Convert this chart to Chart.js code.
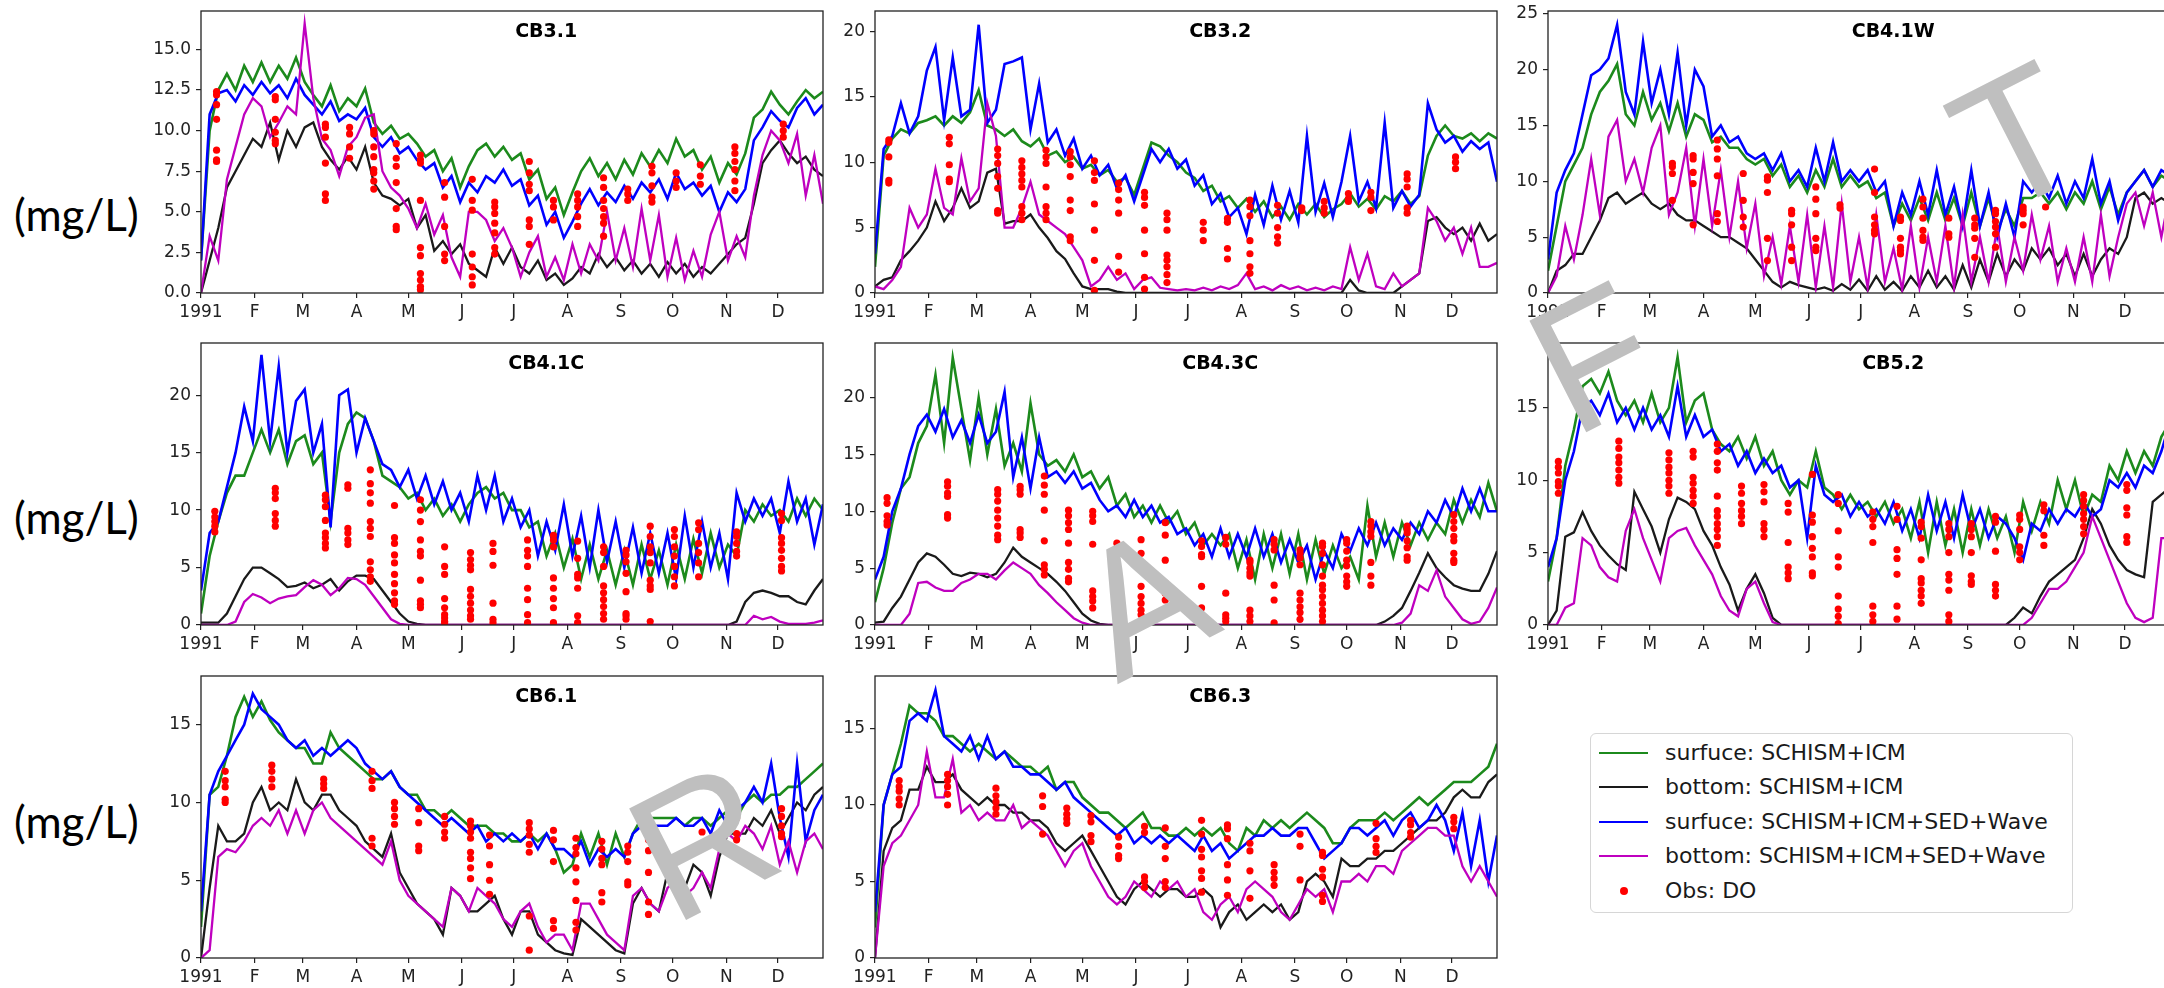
<!DOCTYPE html>
<html>
<head>
<meta charset="utf-8">
<script src="https://cdn.jsdelivr.net/npm/chart.js@4.4.1/dist/chart.umd.min.js"></script>
<style>
  html, body { margin: 0; padding: 0; background: #fff; }
  body { width: 2164px; height: 988px; overflow: hidden; position: relative; }
  canvas.panel { position: absolute; }
  .unit { position: absolute; left: 14px; font-family: Lato, "Noto Sans", sans-serif; font-size: 44px; line-height: 1; color: #000; transform: translateY(-50%); white-space: nowrap; }
  #legend { position: absolute; left: 1590px; top: 733px; width: 481px; height: 178px; border: 1.5px solid #d6d6d6; border-radius: 6px; background: #fff; font-family: "DejaVu Sans", sans-serif; font-size: 22px; color: #1a1a1a; }
  #legend .row { position: absolute; left: 0; height: 30px; line-height: 30px; transform: translateY(-50%); white-space: nowrap; }
  #legend .sw { position: absolute; left: 8px; top: 14px; width: 49px; height: 2px; }
  #legend .dot { position: absolute; left: 29px; top: 11px; width: 8px; height: 8px; border-radius: 50%; background: #ff0000; }
  #legend .txt { position: absolute; left: 74px; top: 0; }
  #wm { position: absolute; left: 0; top: 0; pointer-events: none; z-index: 5; }
</style>
</head>
<body>
<div class="unit" style="top:214px">(mg/L)</div>
<div class="unit" style="top:517px">(mg/L)</div>
<div class="unit" style="top:821px">(mg/L)</div>

<div id="legend">
  <div class="row" style="top:19px"><span class="sw" style="background:#1c8a1c"></span><span class="txt">surfuce: SCHISM+ICM</span></div>
  <div class="row" style="top:53px"><span class="sw" style="background:#1a1a1a"></span><span class="txt">bottom: SCHISM+ICM</span></div>
  <div class="row" style="top:88px"><span class="sw" style="background:#0000ff"></span><span class="txt">surfuce: SCHISM+ICM+SED+Wave</span></div>
  <div class="row" style="top:122px"><span class="sw" style="background:#bf00bf"></span><span class="txt">bottom: SCHISM+ICM+SED+Wave</span></div>
  <div class="row" style="top:157px"><span class="dot"></span><span class="txt">Obs: DO</span></div>
</div>

<canvas id="wm" width="2164" height="988"></canvas>

<script>
// ---- axis definitions ----
const months = [0, 31, 59, 90, 120, 151, 181, 212, 243, 273, 304, 334];
const monthLabels = ['1991', 'F', 'M', 'A', 'M', 'J', 'J', 'A', 'S', 'O', 'N', 'D'];
const STEP = 5; // model series sampled every 5 days from Jan 1

// ---- CB3.1 ----
const cb31Green = [2,10,12.5,13.5,12.5, 14,13,14.2,13,14, 13.2,14.5,13,12.2,11.5, 12.8,11.2,12,11.5,12.6, 10.5,9.8,10.3,9.5,9.8, 9.2,8.4,8.8,7.5,8.3, 6.5,7.8,8.8,9.2,8.4, 9.0,8.2,8.6,7.0,7.6, 5.8,6.5,4.8,6.2,7.5, 8.3,7.2,8.0,7.0,8.2, 7.3,8.6,7.8,8.8,8.0, 9.5,8.4,8.8,7.6,8.4, 6.8,8.0,7.3,8.6,10.8, 11.3,12.4,11.6,11.0,11.8, 12.5,12.0,12.4];
const cb31Black = [0,2,4,6.5,7.5, 8.5,9.5,9.0,10.5,8.2, 10.0,9.0,10.2,10.5,9.0, 8.2,7.6,8.4,7.6,9.0, 6.8,6.0,5.8,5.4,5.8, 4.0,4.8,2.6,3.2,2.4, 3.0,1.8,1.4,1.0,2.8, 1.8,2.8,1.6,1.2,2.0, 0.8,1.2,0.5,0.9,1.6, 1.2,2.4,1.6,2.2,1.4, 2.0,1.2,1.8,1.0,1.9, 1.2,1.8,1.0,1.6,1.2, 1.8,2.4,3.0,3.4,5.5, 8.0,8.8,9.4,8.6,8.0, 8.4,7.6,7.2];
const cb31Blue = [2,11,12.3,12.5,11.8, 12.8,12.2,13.0,12.3,12.8, 12.0,13.2,12.2,11.6,11.0, 11.8,10.6,11.0,10.7,11.4, 9.6,9.0,9.6,8.6,9.0, 8.2,7.6,8.0,6.5,7.2, 5.6,6.8,6.2,7.2,6.8, 7.6,6.6,7.0,5.4,6.0, 4.2,5.0,3.4,4.4,5.5, 6.4,5.4,6.2,5.6,6.6, 5.8,6.8,6.2,7.0,5.8, 7.4,6.4,6.8,6.0,6.6, 5.0,6.2,5.6,6.4,9.4, 10.2,11.2,10.6,10.2,11.4, 12.0,11.0,11.6];
const cb31Magenta = [0,3.5,2.0,7.0,9.0, 11.0,12.0,11.5,9.6,10.5, 11.5,11.0,16.6,12.0,9.5, 8.8,7.2,9.0,9.6,10.8, 11.0,7.5,6.5,6.0,5.2, 4.0,5.5,3.6,4.8,2.2, 1.0,5.0,5.0,4.5,3.2, 4.0,2.8,1.0,2.5,3.5, 1.0,2.2,0.8,3.0,1.2, 3.0,2.0,5.0,2.0,4.0, 1.6,5.2,2.0,4.8,1.0, 3.4,0.8,2.6,1.0,3.6, 5.0,2.0,3.5,2.2,6.0, 8.5,10.0,9.4,8.0,9.8, 6.0,8.5,5.5];
const cb31Obs = [
  [9,[12.4,12.2,11.6,10.7,8.8,8.2,8.1]], [43,[12.1,11.9,10.7,9.9,9.4,9.2]], [72,[10.4,10.2,9.6,8.0,6.1,5.7]],
  [86,[10.2,9.8,9.0,8.3]], [100,[10.0,9.8,9.0,8.4,7.6,7.4,6.9,6.4]], [113,[9.2,8.3,7.8,6.8,5.2,4.1,3.9]],
  [127,[8.5,8.2,8.0,5.7,2.8,2.3,1.2,0.8,0.4,0.2]], [141,[6.8,5.9,4.1,2.4,2.0]], [157,[7.0,5.7,5.1,2.4,1.6,1.0,0.5]],
  [170,[5.6,5.3,4.9,4.3,3.7,2.8,2.4]], [190,[8.1,7.4,6.7,6.3,4.5,4.1,3.0]], [204,[5.7,5.3,4.5]],
  [218,[6.1,5.7,5.3,4.7,4.1]], [233,[7.1,6.5,5.7,5.2,4.7,4.3,3.5]], [247,[6.4,6.1,5.7]],
  [261,[7.8,7.4,6.6,5.9,5.6]], [275,[7.4,6.9,6.5]], [289,[7.9,7.2,6.7]],
  [309,[9.0,8.6,8.1,7.6,6.9,6.3]], [337,[10.4,10.0,9.6]]
];

// ---- CB3.2 ----
const cb32Green = [2,10.5,11.8,12.5,12.2, 13.0,13.2,13.5,12.8,13.5, 13.0,13.8,15.5,12.8,12.5, 12.0,12.5,11.6,11.2,11.8, 10.5,10.8,10.0,10.4,9.5, 9.8,9.0,9.4,8.5,8.8, 7.5,9.5,11.5,11.2,10.5, 10.0,9.2,8.8,7.8,8.2, 7.0,7.4,6.5,7.2,6.2, 7.0,5.8,6.6,5.6,6.8, 6.0,6.8,5.8,6.4,6.8, 7.6,6.6,7.2,6.4,7.4, 7.0,7.8,6.8,7.4,10.5, 12.0,12.8,12.0,11.8,12.2, 11.6,12.2,11.8];
const cb32Black = [0.5,1.0,1.2,2.5,3.2, 4.0,5.0,7.0,5.5,6.5, 8.0,6.5,7.0,9.2,9.5, 5.3,5.5,5.5,6.0,5.0, 4.2,3.2,2.6,1.5,0.5, 0.3,0.3,0.3,0.1,0, 0,0,0,0,0, 0,0,0,0,0, 0,0,0,0,0, 0,0,0,0,0, 0,0,0,0,0, 1.0,0.2,0,0,0, 0,0.5,1.0,1.5,5.5, 5.8,5.0,4.5,5.0,4.0, 5.3,4.0,4.5];
const cb32Blue = [3,11.0,12.0,14.5,12.2, 13.5,17.0,18.8,13.2,18.0, 13.5,14.0,20.5,13.0,14.0, 17.5,17.7,18.0,12.5,16.0, 11.5,12.5,10.5,11.8,9.5, 10.5,9.0,9.8,8.0,9.0, 7.0,9.0,11.0,10.0,11.0, 9.5,10.2,8.2,9.0,6.8, 7.6,5.8,6.5,4.5,7.5, 5.2,8.2,5.6,7.8,5.4, 12.0,6.2,8.4,5.8,8.5, 12.0,7.0,8.5,6.5,13.0, 6.5,7.8,6.6,7.5,14.5, 12.5,11.5,12.0,10.8,11.6, 11.0,11.5,8.5];
const cb32Magenta = [0.5,0.3,1.0,2.0,6.5, 5.0,6.0,9.5,6.5,6.0, 10.3,7.0,8.0,14.5,12.0, 5.0,5.0,6.5,8.5,6.0, 5.5,5.0,4.5,3.5,2.5, 0.5,1.0,2.0,1.0,1.5, 0.3,1.0,1.2,0.4,0.3, 0.2,0.3,0.2,0.4,0.2, 0.5,0.3,0.6,1.5,0.3, 0.5,0.2,0.6,0.3,0.5, 0.2,0.4,0.2,0.5,0.3, 3.5,1.0,3.0,0.5,0.3, 1.5,0.5,1.0,1.5,6.5, 5.5,4.0,5.0,3.0,5.0, 2.0,2.0,2.3];
const cb32Obs = [
  [8,[11.7,11.5,10.4,8.6,8.4]], [43,[11.9,11.4,9.8,8.7,8.5]], [71,[11.0,10.5,9.9,8.9,8.0,6.3,6.1]],
  [85,[10.1,9.6,9.1,8.6,8.1,6.6,6.1,5.6]], [99,[10.9,10.4,9.9,8.1,6.6,6.1,5.6]], [113,[10.8,10.4,9.8,8.9,7.1,6.3,4.3,4.0]],
  [127,[10.1,9.2,8.6,6.8,4.8,2.5,0.2]], [141,[8.4,7.9,7.1,6.1,2.8,1.6]], [156,[7.7,7.3,6.7,4.8,3.0,1.2,0.3]],
  [169,[6.1,5.6,4.8,2.9,2.5,2.0,1.4,0.8]], [190,[5.4,4.8,4.0]], [204,[5.7,5.4,3.4,2.6]],
  [217,[7.1,6.6,5.9,4.0,3.0,2.0,1.5]], [233,[6.7,6.1,5.0,4.3,3.8]], [247,[6.5,6.3]],
  [260,[7.0,6.5,6.1]], [274,[7.6,7.2,7.0]], [287,[7.7,7.3,6.3]],
  [308,[9.1,8.7,8.1,6.5,6.1]], [336,[10.4,10.0,9.5]]
];

// ---- CB4.1W ----
const cb41wGreen = [2,6,10,11.5,13, 16,18,19,20.5,16, 15,18,15.5,17,14.5, 17,14,16,15.5,13.5, 14,13,13,12,11.5, 12,10.5,11.5,9.5,10.5, 9,11,9.5,12,9.5, 10.5,9.5,10,8.5,9, 6,8,6.5,8.5,6.5, 9,6.5,8.5,6,9, 6,8.5,5.5,7.5,6, 8.5,8.5,9,8,9, 7.5,9,8,10,7.5, 9.5,7,9,10,11, 9.5,10.5,10];
const cb41wBlack = [0,2,2.5,3.5,3.5, 5,6.5,8.5,9,8, 8.5,9,8,7.5,8, 7,6.5,6.5,6,5.5, 5,5,4.5,4,3, 2,1,0.5,1,0.7, 0.5,0.3,0.5,0.2,0.8, 0.3,1.2,0.2,1.5,0.3, 1,0.2,1.5,0.5,2, 0.5,1.5,0.3,2.5,0.5, 3,1,3.5,1.5,3, 2,4,3,4,2.5, 3.5,1.5,3.5,1.5,3, 4,3.5,5,8.5,9, 8,8.5,8];
const cb41wBlue = [3,9,11,12.5,16, 19.5,20,21,24,18, 16,22.5,17,20,16, 21.5,15,20,18.5,14, 15,13.5,14,12.5,12, 12.5,11,12.5,10,11, 9.5,13,10,13.5,10, 11,10,11,9,10, 6,9,7,10,7, 11,7,9.5,6,11, 6,9,5,8,5, 10,9,10,8.5,10.5, 8,10,8.5,12,8, 10,6.5,9,10,11, 9.5,11,10.5];
const cb41wMagenta = [0,1.5,6,3,7, 12,7,14,15.5,10, 12,9,13,15,7, 9,13,6,12,6, 11,5,10,4,8, 1.5,5,0.8,6,1, 7,0.5,6,0.5,8, 1,5,0.5,7,1, 4,0.3,6,0.5,5, 1,6,0.5,7,1, 5,1,6,1,5, 2,7,3,6,1, 4,1,5,1,7, 1.5,5,8,9,6, 9,5,9];
const cb41wObs = [
  [72,[11.6,11.3,10.7,8.3]], [84,[12.3,12.0,10.8,9.8,6.1]], [98,[13.7,12.9,12.0,10.5,7.1,6.4]],
  [113,[10.7,8.3,6.8,5.9]], [127,[10.4,10.1,9.0,4.9,2.9]], [141,[7.4,7.1,6.1,4.1,2.9]],
  [155,[9.5,8.4,7.1,4.9,4.1,3.8]], [169,[7.9,7.6]], [189,[11.1,9.0,6.8,6.1,5.6,5.3]],
  [204,[6.8,6.5,4.9,4.1,3.8,3.5]], [217,[8.4,7.7,6.7,5.6,5.0,4.7]], [232,[6.7,5.3,5.0]],
  [247,[6.7,6.1,5.8,4.9,3.2]], [259,[7.4,7.1,6.4,5.9,5.3,4.1]], [275,[7.7,7.4,7.1,6.1]], [288,[7.7]]
];

// ---- CB4.1C ----
const cb41cGreen = [1,6,9,11.5,13, 13,15,17,15,17, 14,16,16.5,14,15, 9,15,17.5,18.5,18, 16,13,12.5,12,11, 11.5,10,11,9.5,10.5, 9,10.5,11.5,12,11, 11.5,10,10,8.5,9, 6,8,5,7.5,4, 7,4,6.5,3.5,6.5, 3.5,7,4,6.5,3.5, 7,4,7.5,4.5,8, 5,7,6,10,9, 10.5,9.5,10,9,11, 9.5,11,10];
const cb41cBlack = [0.2,0.2,0.2,1,2.5, 4,5,5,4.5,4, 3.3,3.4,3.7,3.2,3.5, 4,3,3.8,4.3,4.3, 4,3,2,1,0.3, 0.1,0,0,0,0, 0,0,0,0,0, 0,0,0,0,0, 0,0,0,0,0, 0,0,0,0,0, 0,0,0,0,0, 0,0,0,0,0, 0,0,0.3,2,2.8, 3,2.8,2.5,2.5,2, 1.8,3,4];
const cb41cBlue = [3,8,9,12,15, 19,16,23.5,16,22.5, 15,19.5,20.5,15,17.5, 8.5,20,20.5,15,18, 16,14,13.5,12,13.5, 11,13,10.5,12.5,10, 11.5,9,13,10,13, 9,11,8.5,10,6, 9,6.5,10.5,6,9.5, 5,10,5.5,9,5, 8.5,4.5,8,4.5,8, 4,9.5,5,9,5, 8,4,11.5,9,11, 9.5,11,8,12.5,9, 11,7,10.5];
const cb41cMagenta = [0,0,0,0,0.3, 2,2.7,2.4,1.9,2.3, 2.5,2.6,3.3,3.9,3.5, 2.6,3.2,4.1,4,3.5, 2.5,1.5,0.5,0.1,0, 0,0,0,0,0, 0,0,0,0,0, 0,0,0,0,0, 0,0,0,0,0, 0,0,0,0,0, 0,0,0,0,0, 0,0,0,0,0, 0,0,0,0,0.8, 0.5,0.7,0.3,0.1,0.1, 0.1,0.2,0.4];
const cb41cObs = [
  [8,[9.9,9.4,9.0,8.6,8.1]], [43,[11.9,11.5,11.0,9.7,9.1,8.6]], [72,[11.3,10.9,10.3,9.1,8.0,7.6,7.1,6.7]],
  [85,[12.2,11.9,8.4,8.0,7.4,7.0]], [98,[13.5,12.3,11.5,10.6,9.0,8.4,7.7,5.5,4.8,4.2,3.8]],
  [112,[10.4,7.6,7.1,6.1,5.4,4.4,3.6,2.8,2.1,1.8]], [127,[10.9,10.0,9.0,7.4,6.4,6.0,3.9,2.1,1.8,1.5]],
  [141,[6.8,5.1,4.4,2.3,1.5,0.9,0.6,0.3,0.2]], [156,[6.3,5.7,5.2,4.8,3.1,2.5,1.9,1.3,0.8,0.5]],
  [169,[7.1,6.4,5.2,1.9,0.5,0.2]], [189,[7.4,6.5,6.0,5.1,3.2,2.2,0.9,0.2]], [204,[7.8,7.4,6.8,4.1,3.2,2.3,1.5,0.2]],
  [218,[7.3,5.8,4.4,4.1,3.2,0.8,0.2]], [233,[6.8,6.3,5.1,3.4,2.8,2.2,1.6,1.0,0.5]], [246,[6.5,6.1,5.5,4.5,2.9,1.0,0.8,0.5]],
  [260,[8.6,7.7,6.8,6.3,5.4,3.9,3.4,3.1,0.3]], [274,[8.3,7.7,6.8,6.0,5.1,4.2,3.4]], [288,[8.9,8.3,7.1,6.3,5.4,4.2]],
  [310,[8.1,7.7,7.1,6.4,6.0]], [336,[9.7,9.1,7.6,7.1,6.5,5.8,5.1,4.7]]
];

// ---- CB4.3C ----
const cb43cGreen = [2,5,9,12,13, 16,17.5,22,16,23.5, 19,14.5,20,15,19, 14,16,13.5,19.5,15, 14,14.5,13.5,15,13, 13.5,12,13,10.5,11.5, 9.5,10.5,9,10.5,9, 10,8,9,7,8, 7,8,5,7.5,4, 8,5,8,4.5,8, 4,7.5,4.5,7,5, 6,4,10.5,6,9, 6,9,7,9,7.5, 9,8,11,9,11, 9.5,12.5,10];
const cb43cBlack = [0.2,0.3,1.5,2.5,4, 5.5,6.3,6,5.3,4.5, 4.3,4.6,4.5,4.2,4.5, 5.5,6.8,6,5.5,5, 4.5,3.8,3,2,1, 0.4,0.1,0,0,0, 0,0,0,0,0, 0,0,0,0,0, 0,0,0,0,0, 0,0,0,0,0, 0,0,0,0,0, 0,0,0,0,0.3, 0.8,1.5,3,4.6,6.3, 5,4.2,3.5,3.2,3, 3,4.5,6.5];
const cb43cBlue = [4,6,10,12,15, 17.5,18.5,17,19,16.5, 18,16,18.5,16,17, 20.5,13,16.5,12,16.5, 13,13.5,12.5,13.5,12, 12.5,11,10,10.5,9.5, 11,9.5,10.5,9,9.5, 8,8.5,7,8,6, 8.5,6,8,6,8.5, 6,8,5.5,7.5,5.5, 7,4,6.5,5,8, 6.5,8.5,7,9,7, 8.5,7.5,9,8,10, 9,11,9.5,12,10, 12,10,10];
const cb43cMagenta = [0,0,0,0,1, 3.7,3.8,3.3,3,3, 3.7,4,4.5,4.5,4, 4.8,5.5,5,4.5,3.5, 2.8,2,1.3,0.6,0.2, 0,0,0,0,0, 0,0,0,0,0, 0,0,0,0,0, 0,0,0,0,0, 0,0,0,0,0, 0,0,0,0,0, 0,0,0,0,0, 0,0.2,1,3.5,3, 4.8,2.5,1.5,0.5,0.1, 0.3,1.5,3.3];
const cb43cObs = [
  [7,[11.2,10.7,9.6,9.1,8.8]], [42,[12.6,12.2,11.6,11.3,9.7,9.4]], [71,[11.9,11.5,10.9,10.1,9.4,8.7,7.9,7.5]],
  [84,[12.2,11.9,11.5,8.4,8.1,7.7]], [98,[13.1,12.3,11.5,10.1,7.4,5.3,4.9,4.4]], [112,[10.1,9.6,9.0,8.4,7.2,5.5,4.9,4.1,3.8]],
  [126,[10.0,9.6,9.1,7.1,3.0,2.5,2.1,1.5]], [140,[7.2,6.5,2.8,1.9,1.1]], [154,[7.5,6.3,3.4,2.5,1.9,1.3,0.9]],
  [168,[9.0,7.9,5.7,3.7,2.8,2.2]], [189,[7.4,6.9,6.2,6.0,3.4,1.5,0.5]], [203,[7.7,7.1,2.8,0.9,0.6,0.3]],
  [217,[5.7,5.5,5.0,4.6,4.3,1.3,0.8,0.3]], [231,[7.5,7.1,6.6,3.5,2.2,0.2]], [246,[6.6,6.3,5.9,5.3,2.8,2.2,1.6,1.1,0.5]],
  [259,[7.2,6.9,6.3,5.3,4.3,3.5,3.1,2.5,1.9,1.3,0.8,0.3]], [273,[7.5,7.2,6.5,5.7,5.2,4.3,3.8,3.4]],
  [287,[9.1,8.7,8.2,7.8,5.5,4.3,3.5]], [308,[8.7,8.4,8.1,7.4,6.8,6.0,5.7]], [335,[9.7,9.1,8.5,7.8,7.4,6.3,5.7,5.5]]
];

// ---- CB5.2 ----
const cb52Green = [3,6,11,13.5,16.5, 17,16,17.5,15.5,14.5, 15.5,14,16,14,15, 18.5,14,15.5,16,13.5, 12.5,12,13,11.5,13, 11,12,10,9,10, 9.5,12,9.5,9,8, 9,8,8.5,7.5,8.5, 7,8,6,8.5,5, 8.5,5.5,8,5,8, 5.5,8,6,7.5,5, 8.5,6.5,8.5,7,10, 8,10,7.5,9,8.5, 11,10,12,10.5,12, 11,13,14];
const cb52Black = [0,1,6.1,6.4,7.8, 6.5,5.5,4.8,4.2,3.8, 9.2,8,6.8,5,7.3, 8.8,8.5,8,6.5,5.5, 4,2.8,1,2.5,3.5, 2.2,0.5,0,0,0, 0,0,0,0,0, 0,0,0,0,0, 0,0,0,0,0, 0,0,0,0,0, 0,0,0,0,0.5, 1.2,0.8,2,3,3.5, 4,4.5,6,8,7, 5.5,4.5,3.8,3.5,3.3, 8.5,9,9.5];
const cb52Blue = [4,6,10,12,15, 15.5,14.5,16,14,15, 13.5,15,13.5,14.5,13, 16.5,13,14.5,13,13.5, 12,12.5,11,12,10.5, 11.5,10.5,11,9.5,10, 6,11,9,8.5,9, 7.5,8.5,7.5,8,7, 8.5,6.5,8,6,9, 6.5,8.5,6,9,6.5, 8,6,7.5,7,6, 4.5,7,6.5,8,7, 8,7.5,8.5,7.5,8, 10,9.5,10.5,9.5,11, 10.5,12,14];
const cb52Magenta = [0,0,1.2,1.5,6, 5.5,4,3.3,3,6.5, 8,6,4.5,3,6, 6.5,6.7,5.5,4.5,3.5, 2,1,0.6,2.5,3, 1.5,0.2,0,0,0, 0,0,0,0,0, 0,0,0,0,0, 0,0,0,0,0, 0,0,0,0,0, 0,0,0,0,0, 0,0.5,1.5,2.5,2.5, 3,4,5,7.5,6, 4.5,3,1.5,0.5,0.2, 0.5,6,6];
const cb52Obs = [
  [6,[11.3,10.9,10.5,9.9,9.6,9.1]], [41,[12.7,12.2,11.6,11.2,10.7,10.2,9.8]], [70,[11.9,11.4,10.9,10.5,10.0,9.6,9.1]],
  [84,[12.0,11.6,10.2,9.8,9.3,8.9,8.4]], [98,[12.5,12.0,11.2,10.7,8.9,7.9,7.5,7.0,6.6,6.1,5.5]], [112,[9.6,9.1,8.4,7.9,7.5,7.0]],
  [125,[9.7,9.2,8.5,7.0,6.6,6.1]], [139,[8.4,7.8,5.7,4.0,3.6,3.2]], [153,[10.4,7.6,7.1,6.1,5.3,4.7,3.6,3.4]],
  [168,[9.0,8.4,6.5,4.7,4.0,2.0,1.1,0.6,0.1]], [188,[7.8,7.3,6.8,5.7,1.3,0.7,0.25]], [202,[8.2,7.3,5.2,4.6,3.5,1.3,0.4]],
  [216,[7.1,6.8,6.0,4.5,3.2,2.9,2.4,2.0,1.5]], [232,[7.0,6.6,6.1,5.0,3.5,3.1,2.4,0.7,0.25]], [245,[7.0,6.6,6.1,5.0,3.4,3.0,2.8]],
  [259,[7.5,7.1,5.1,2.8,2.4,2.0]], [273,[7.6,7.3,6.6,5.4,5.0,4.5]], [287,[8.3,7.9,6.2,5.5]],
  [310,[9.0,8.6,8.2,7.7,7.3,6.8,6.3]], [335,[9.7,9.3,8.1,7.6,6.1,5.7]]
];

// ---- CB6.1 ----
const cb61Green = [2,10.5,11,13,15.5, 16.8,15.5,16.5,15.3,14.5, 14,13.5,13.5,12.5,12.5, 14.5,13.5,13,12.5,12, 11.5,11.5,12,11,10.5, 10.5,9.5,9.5,9,9.5, 9,8.5,8.5,8.5,8, 8,7.5,7.5,8,7.5, 8,7,5.5,6,8, 6.5,8,6,8,6.5, 8,9,9,9,9, 9,8.5,9,9,8.5, 9,9.5,9,10,10.5, 10,10.5,10.5,11,11, 11.5,12,12.5];
const cb61Black = [0,4.5,8.5,7.5,7.5, 8,10,11,9.5,10, 9.5,11.5,10,9.5,10.5, 10.5,9.5,9,8.5,7.5, 7,6.5,8,5.5,4.5, 3.5,3,2.5,1.5,4.5, 4,3,3,3.5,4, 2.5,1.5,3,3,1.5, 1,0.5,0.3,0.2,2.5, 2,1.5,1,0.5,0.3, 3.5,4.5,3.5,3,5.5, 4.5,4.5,6,5.5,4, 6.5,8,8,8,9, 8.5,9.5,8,9,10, 9.5,10.5,11];
const cb61Blue = [3,10.5,12,13,14, 15,17,16,15.5,15, 14,13.5,14,13,13.5, 13,13.5,14,13.5,12.5, 12,11.5,12,11,10.5, 10,9.5,9,8.5,9, 8.5,8,8.5,7.5,8, 7.5,8,7.5,8,7, 8,7,7,6.5,7.5, 6,7,6.5,7,6.5, 8,8.5,8.5,8.5,8.5, 9,8.5,8.5,9,8, 9.5,8.5,9.5,10,11, 10,12.5,9,6.5,12.5, 7.5,9.5,10.5];
const cb61Magenta = [0,0.5,6.5,7,6.8, 7.5,8.5,9,8.5,9.5, 8,9.5,8,9.5,10, 9,8.5,8,7.5,7, 6.5,6,7.5,5,4, 3.5,3,2.5,2,4.5, 4,3,4.5,4,3.5, 2.5,2,3,3.5,2, 1,1.5,1.5,0.5,3.5, 3.5,2.5,1.5,1,0.5, 4,4.5,3.5,3,4.5, 5,4,4.5,5.5,4.5, 7,8,7.5,8.5,8, 7,8.5,6,7.5,5.5, 7.5,8,7];
const cb61Obs = [
  [14,[12.0,11.4,11.0,10.2,10.0]], [41,[12.4,12.0,11.5,11.0]], [71,[11.5,11.2,10.9]],
  [99,[12.0,11.4,10.9,7.7,7.2]], [112,[10.0,9.6,9.1,8.6]], [126,[9.6,8.7,7.2,6.9]],
  [141,[9.1,8.6,8.1,7.7]], [156,[8.8,8.5,8.1,7.7,6.8,6.4,5.8,5.1]], [167,[7.9,7.2,6.0,5.0,4.1]],
  [190,[8.7,8.3,7.9,7.3,6.8,2.7,0.5]], [204,[8.2,7.6,6.2,2.4,1.9]], [217,[7.7,7.1,6.7,5.8,4.9,3.7,2.3,1.8]],
  [232,[7.5,7.0,6.4,6.0,4.2,3.6]], [247,[7.2,6.8,6.2,4.9,4.7]], [259,[7.6,6.9,5.5,3.6,2.8]],
  [290,[8.1]], [310,[9.6,9.0,8.0,7.6]], [336,[9.6,9.1,8.5,8.0,7.8]]
];

// ---- CB6.3 ----
const cb63Green = [2,10,12,14,16.5, 16,16,15.5,14.5,14.5, 14,13.5,14,13.5,13, 13.5,13,12.5,12.5,12, 12.5,11,11.5,11.5,10.5, 10,9.5,9.5,9,8.5, 9,9.5,8.5,8.5,8, 8,8.5,8,8.5,8, 8.5,7.5,7,8.5,8, 9,8.5,9,8.5,9, 9.5,9,8.5,7.5,7.5, 8.5,9,9,9,9.5, 9,9.5,10,10.5,10, 10.5,11,11.5,11.5,11.5, 12,12.5,14];
const cb63Black = [0,7,8.5,9,11, 11,12.5,11.5,11.5,12, 11,10.5,10,10.5,10, 10,9.5,9.5,9,9, 8.5,7.5,7,7.5,8, 7,6,5,4,3.5, 4.5,5,4.5,4,4.5, 4.5,4,4,4.5,4, 2,3,3.5,2.5,3, 3.5,3,3.5,2.5,3, 5,5.5,5,4,6.5, 6,6,6.5,6.5,7, 7,7.5,8,8.5,9, 9,9.5,10.5,11,10.5, 10.5,11.5,12];
const cb63Blue = [3,10,12,12.5,15.5, 16,15.5,17.5,14.5,14, 13.5,14.5,13,14.5,13, 13.5,12.5,12.5,12,12, 11.5,11,11.5,10.5,10, 9.5,9,8.5,8,8.5, 7.5,8,7.5,8,7.5, 8,7.5,7,8,7, 7.5,6.5,7,7.5,8, 8,8.5,8,8,8.5, 8.5,7.5,6.5,7,7.5, 8.5,8.5,8,8.5,9, 8,9,9.5,8.5,9, 10,9,7,9.5,6, 9,5,8];
const cb63Magenta = [0,6,7.5,8,9, 10,13.5,10.5,10.5,13, 9.5,10,9,9.5,9, 9,10,8.5,9,8.5, 8,7,6,7,7.5, 6,5,4,3.5,4, 5,4.5,4,5,4.5, 5,4,4.5,3,2.5, 3.5,4,3,4.5,5, 4.5,4,3,2.5,3.5, 4.5,4,4.5,3,5, 5,5.5,5,6,6, 5.5,7,7.5,8,8.5, 8.5,8,8,6,5, 6,5,4];
const cb63Obs = [
  [14,[11.6,11.2,10.9,10.4,10.0]], [42,[12.0,11.6,11.2,10.7,10.0]], [70,[11.1,10.6,10.2,9.8,9.4]],
  [97,[10.6,9.9,8.1]], [111,[9.8,9.4,9.1,8.8]], [125,[9.3,8.9,8.0,7.6]],
  [141,[7.9,7.3,6.7,6.5]], [156,[8.6,8.2,5.3,5.0,4.6]], [168,[8.5,7.3,6.5,5.0,4.6]],
  [189,[9.0,8.1,7.1,6.6,5.7,5.2,4.3]], [204,[8.7,8.45,7.8,6.1,5.1,4.1]], [217,[7.5,7.0,5.7,3.9]],
  [231,[6.1,5.6,5.2,4.75]], [246,[8.1,7.3,5.1]], [259,[6.9,6.7,5.8,5.3,4.1,3.7]],
  [290,[8.8,7.8,7.3,6.9]], [310,[9.0,8.7,8.2,7.9]], [335,[9.2,8.9,8.45]]
];

// ---- panel layout (plot-area left/top in page pixels) ----
const ticksHalf = [0, 2.5, 5, 7.5, 10, 12.5, 15];
const ticks20 = [0, 5, 10, 15, 20];
const ticks25 = [0, 5, 10, 15, 20, 25];
const ticks15 = [0, 5, 10, 15];

const panels = [
  { title: 'CB3.1',  left: 201,  top: 11,  ymax: 17.37, yticks: ticksHalf, dec: 1, g: cb31Green,  k: cb31Black,  b: cb31Blue,  m: cb31Magenta,  obs: cb31Obs },
  { title: 'CB3.2',  left: 875,  top: 11,  ymax: 21.55, yticks: ticks20, dec: 0, g: cb32Green,  k: cb32Black,  b: cb32Blue,  m: cb32Magenta,  obs: cb32Obs },
  { title: 'CB4.1W', left: 1548, top: 11,  ymax: 25.25, yticks: ticks25, dec: 0, g: cb41wGreen, k: cb41wBlack, b: cb41wBlue, m: cb41wMagenta, obs: cb41wObs },
  { title: 'CB4.1C', left: 201,  top: 343, ymax: 24.54, yticks: ticks20, dec: 0, g: cb41cGreen, k: cb41cBlack, b: cb41cBlue, m: cb41cMagenta, obs: cb41cObs },
  { title: 'CB4.3C', left: 875,  top: 343, ymax: 24.8,  yticks: ticks20, dec: 0, g: cb43cGreen, k: cb43cBlack, b: cb43cBlue, m: cb43cMagenta, obs: cb43cObs },
  { title: 'CB5.2',  left: 1548, top: 343, ymax: 19.48, yticks: ticks15, dec: 0, g: cb52Green,  k: cb52Black,  b: cb52Blue,  m: cb52Magenta,  obs: cb52Obs },
  { title: 'CB6.1',  left: 201,  top: 676, ymax: 18.13, yticks: ticks15, dec: 0, g: cb61Green,  k: cb61Black,  b: cb61Blue,  m: cb61Magenta,  obs: cb61Obs },
  { title: 'CB6.3',  left: 875,  top: 676, ymax: 18.43, yticks: ticks15, dec: 0, g: cb63Green,  k: cb63Black,  b: cb63Blue,  m: cb63Magenta,  obs: cb63Obs }
];

const PLOT_W = 622, PLOT_H = 282;
const Y_AXIS_W = 70, X_AXIS_H = 40, PAD_TOP = 8, PAD_RIGHT = 12;

const COLORS = { g: '#1c8a1c', k: '#1a1a1a', b: '#0000ff', m: '#bf00bf', obs: '#ff0000' };
const tickFont = { family: 'DejaVu Sans', size: 17 };

function toXY(values) {
  return values.map((v, i) => ({ x: i * STEP, y: v }));
}
function obsXY(obs) {
  return obs.flatMap(([d, vals]) => vals.map(v => ({ x: d, y: v })));
}

// box round the plot area + title inside it, like matplotlib spines + ax.text
const framePlugin = {
  id: 'frame',
  afterDatasetsDraw(chart, args, opts) {
    const { ctx, chartArea: a } = chart;
    ctx.save();
    ctx.strokeStyle = '#222';
    ctx.lineWidth = 1.3;
    ctx.strokeRect(a.left, a.top, a.right - a.left, a.bottom - a.top);
    ctx.fillStyle = '#000';
    ctx.font = 'bold 19px "DejaVu Sans"';
    ctx.textAlign = 'center';
    ctx.textBaseline = 'middle';
    ctx.fillText(opts.title, a.left + 0.555 * (a.right - a.left), a.top + 21);
    ctx.restore();
  }
};

function lineSet(label, values, color, width, order) {
  return {
    label, data: toXY(values), borderColor: color, backgroundColor: color,
    borderWidth: width, pointRadius: 0, tension: 0, fill: false, order
  };
}

panels.forEach(p => {
  const cv = document.createElement('canvas');
  cv.className = 'panel';
  cv.width = PLOT_W + Y_AXIS_W + PAD_RIGHT;
  cv.height = PLOT_H + PAD_TOP + X_AXIS_H;
  cv.style.left = (p.left - Y_AXIS_W) + 'px';
  cv.style.top = (p.top - PAD_TOP) + 'px';
  document.body.insertBefore(cv, document.getElementById('wm'));

  new Chart(cv, {
    type: 'line',
    data: {
      datasets: [
        lineSet('surfuce: SCHISM+ICM', p.g, COLORS.g, 2.6, 4),
        lineSet('bottom: SCHISM+ICM', p.k, COLORS.k, 2.3, 3),
        lineSet('surfuce: SCHISM+ICM+SED+Wave', p.b, COLORS.b, 2.6, 2),
        lineSet('bottom: SCHISM+ICM+SED+Wave', p.m, COLORS.m, 2.3, 1),
        {
          type: 'scatter', label: 'Obs: DO', data: obsXY(p.obs),
          pointRadius: 3.6, pointBackgroundColor: COLORS.obs, pointBorderWidth: 0,
          backgroundColor: COLORS.obs, borderColor: COLORS.obs, order: 0
        }
      ]
    },
    options: {
      responsive: false,
      animation: false,
      devicePixelRatio: 1,
      layout: { padding: { left: 0, top: PAD_TOP, right: PAD_RIGHT, bottom: 0 } },
      plugins: { legend: { display: false }, tooltip: { enabled: false }, frame: { title: p.title } },
      scales: {
        x: {
          type: 'linear', min: 0, max: 360,
          afterBuildTicks: s => { s.ticks = months.map(v => ({ value: v })); },
          afterFit: s => { s.height = X_AXIS_H; s.paddingLeft = 0; s.paddingRight = 0; },
          grid: { drawOnChartArea: false, drawTicks: true, tickLength: 5, color: '#222', lineWidth: 1.2 },
          border: { display: false },
          ticks: {
            autoSkip: false, maxRotation: 0, padding: 4, color: '#222', font: tickFont,
            callback: v => monthLabels[months.indexOf(v)]
          }
        },
        y: {
          type: 'linear', min: 0, max: p.ymax,
          afterBuildTicks: s => { s.ticks = p.yticks.map(v => ({ value: v })); },
          afterFit: s => { s.width = Y_AXIS_W; s.paddingTop = 0; s.paddingBottom = 0; },
          grid: { drawOnChartArea: false, drawTicks: true, tickLength: 5, color: '#222', lineWidth: 1.2 },
          border: { display: false },
          ticks: {
            padding: 5, color: '#222', font: tickFont,
            callback: v => p.dec ? v.toFixed(1) : String(v)
          }
        }
      }
    },
    plugins: [framePlugin]
  });
});

// ---- DRAFT watermark letters (drawn over the panels) ----
const wmLetters = [['R', 705, 845], ['A', 1145, 605], ['F', 1596, 362], ['T', 2019, 142]];
const wctx = document.getElementById('wm').getContext('2d');
wctx.fillStyle = '#bfbfbf';
wctx.font = '182px "Liberation Sans"';
wctx.textAlign = 'center';
wctx.textBaseline = 'middle';
wmLetters.forEach(([ch, x, y]) => {
  wctx.save();
  wctx.translate(x, y);
  wctx.rotate(-27 * Math.PI / 180);
  wctx.fillText(ch, 0, 8);
  wctx.restore();
});
</script>
</body>
</html>
